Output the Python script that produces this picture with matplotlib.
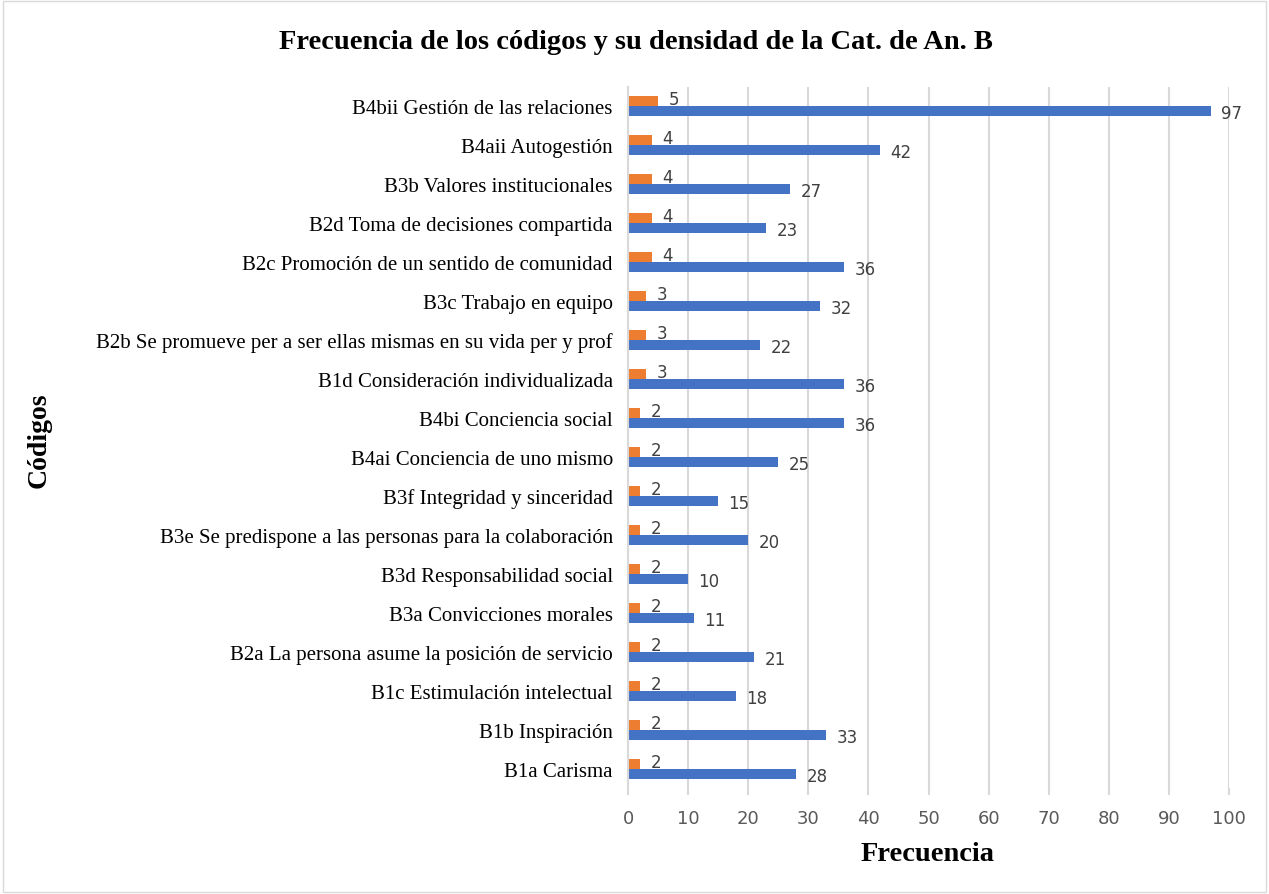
import numpy as np
import matplotlib.pyplot as plt
from matplotlib.patches import Rectangle

codes = ["B1a Carisma", "B1b Inspiración", "B1c Estimulación intelectual",
         "B2a La persona asume la posición de servicio", "B3a Convicciones morales",
         "B3d Responsabilidad social", "B3e Se predispone a las personas para la colaboración",
         "B3f Integridad y sinceridad", "B4ai Conciencia de uno mismo", "B4bi Conciencia social",
         "B1d Consideración individualizada",
         "B2b Se promueve per a ser ellas mismas en su vida per y prof",
         "B3c Trabajo en equipo", "B2c Promoción de un sentido de comunidad",
         "B2d Toma de decisiones compartida", "B3b Valores institucionales",
         "B4aii Autogestión", "B4bii Gestión de las relaciones"]
frecuencia = [28, 33, 18, 21, 11, 10, 20, 15, 25, 36, 36, 22, 32, 36, 23, 27, 42, 97]
densidad = [2, 2, 2, 2, 2, 2, 2, 2, 2, 2, 3, 3, 3, 4, 4, 4, 4, 5]

blue = "#4472c4"
orange = "#ed7d31"
serif = "Liberation Serif"
sans = "DejaVu Sans"

fig = plt.figure(figsize=(12.69, 8.95), dpi=100)
ax = fig.add_axes([0.4949, 0.1179, 0.4736, 0.7843])

y = np.arange(len(codes))
h = 0.26
ax.barh(y - h / 2, frecuencia, height=h, color=blue, zorder=3)
ax.barh(y + h / 2, densidad, height=h, color=orange, zorder=3)

for i in range(len(codes)):
    ax.text(frecuencia[i] + 1.7, y[i] - h / 2 - 0.05, str(frecuencia[i]), va="center",
            ha="left", fontsize=12, color="#404040", family=sans)
    ax.text(densidad[i] + 1.7, y[i] + h / 2 + 0.05, str(densidad[i]), va="center",
            ha="left", fontsize=12, color="#404040", family=sans)

ax.set_xlim(0, 100)
ax.set_ylim(-0.5, len(codes) - 0.5)
ax.set_xticks(range(0, 101, 10))
ax.set_yticks(y)
ax.set_yticklabels(codes, fontsize=15, family=serif, color="black")
for lab in ax.get_xticklabels():
    lab.set_family(sans)
    lab.set_fontsize(13)
    lab.set_color("#595959")
ax.tick_params(axis="y", length=0, pad=11)
ax.tick_params(axis="x", length=5, color="#d9d9d9", width=1.5, pad=10)
ax.grid(axis="x", color="#d9d9d9", linewidth=1.5, zorder=0)
for s in ["top", "right", "bottom"]:
    ax.spines[s].set_visible(False)
ax.spines["left"].set_color("#d9d9d9")
ax.spines["left"].set_linewidth(1.5)
ax.spines["left"].set_zorder(4)

fig.text(0.501, 0.953, "Frecuencia de los códigos y su densidad de la Cat. de An. B",
         ha="center", va="center", fontsize=20.5, fontweight="bold", family=serif)
fig.text(0.731, 0.045, "Frecuencia", ha="center", va="center", fontsize=20.5,
         fontweight="bold", family=serif)
fig.text(0.031, 0.508, "Códigos", ha="center", va="center", rotation=90, fontsize=20,
         fontweight="bold", family=serif)

fig.patches.append(Rectangle((0.002, 0.002), 0.996, 0.996, transform=fig.transFigure,
                             fill=False, edgecolor="#d9d9d9", linewidth=1))

plt.savefig("out.png", dpi=100)
